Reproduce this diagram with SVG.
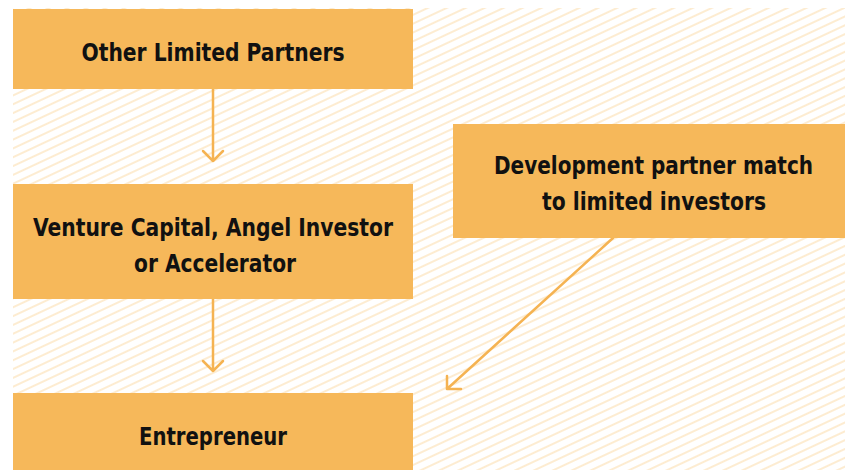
<svg xmlns="http://www.w3.org/2000/svg" width="845" height="470" viewBox="0 0 845 470">
  <style>
    .box { fill: #F6B85A; }
    .lbl { font-family: "DejaVu Sans", "Liberation Sans", sans-serif; font-stretch: condensed; font-weight: bold; font-size: 25px; fill: #111111; text-anchor: middle; }
    .conn { stroke: #F5B352; stroke-width: 2.5; fill: none; stroke-linecap: round; stroke-linejoin: round; }
  </style>
  <defs>
    <pattern id="hatch" patternUnits="userSpaceOnUse" width="8" height="8" patternTransform="rotate(-25)">
      <line x1="0" y1="4" x2="8" y2="4" stroke="#FBDCAB" stroke-width="1.1"/>
    </pattern>
  </defs>
  <rect x="0" y="0" width="845" height="470" fill="#FFFFFF"/>
  <rect x="13" y="8" width="832" height="462" fill="url(#hatch)"/>

  <g id="connectors">
    <path class="conn" d="M213 89 V161 M203 151 L213 161 L223 151"/>
    <path class="conn" d="M213 299 V371 M203 361 L213 371 L223 361"/>
    <path class="conn" d="M613 238 L447 389 M447 376 L447 389 L461 389"/>
  </g>

  <g id="node-other-limited-partners">
    <rect class="box" x="13" y="9" width="400" height="80"/>
    <text class="lbl" x="213" y="61" textLength="263" lengthAdjust="spacingAndGlyphs">Other Limited Partners</text>
  </g>
  <g id="node-venture-capital">
    <rect class="box" x="13" y="184" width="400" height="115"/>
    <text class="lbl" x="213" y="236" textLength="360" lengthAdjust="spacingAndGlyphs">Venture Capital, Angel Investor</text>
    <text class="lbl" x="215" y="272" textLength="162" lengthAdjust="spacingAndGlyphs">or Accelerator</text>
  </g>
  <g id="node-development-partner">
    <rect class="box" x="453" y="124" width="392" height="114"/>
    <text class="lbl" x="653.5" y="174" textLength="319" lengthAdjust="spacingAndGlyphs">Development partner match</text>
    <text class="lbl" x="654" y="210" textLength="224" lengthAdjust="spacingAndGlyphs">to limited investors</text>
  </g>
  <g id="node-entrepreneur">
    <rect class="box" x="13" y="393" width="400" height="77"/>
    <text class="lbl" x="213" y="445" textLength="148" lengthAdjust="spacingAndGlyphs">Entrepreneur</text>
  </g>
</svg>
